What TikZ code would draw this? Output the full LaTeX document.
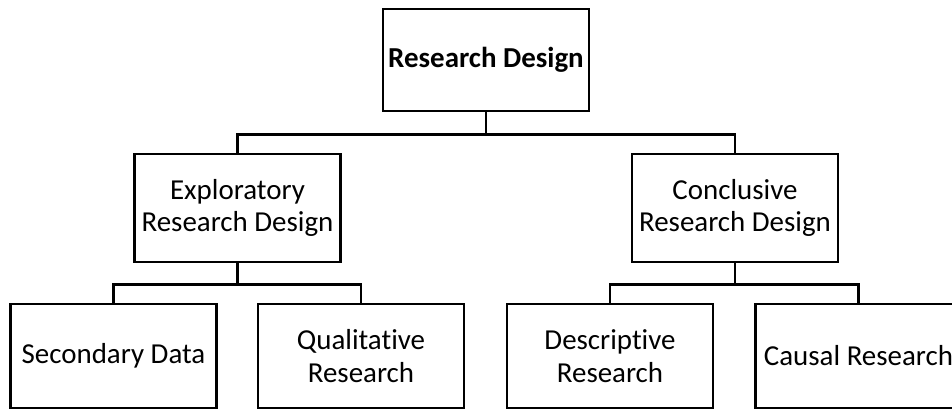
\documentclass[tikz,border=0pt]{standalone}
\usepackage{fontspec}
\setmainfont{Carlito}[Ligatures={NoCommon}]
\usepackage{tikz}
\usetikzlibrary{positioning, calc}

\tikzset{
    designbox/.style={draw=black, line width=2.2pt, fill=white, align=center,
        minimum width=154.5pt, minimum height=#1, inner sep=0pt,
        font=\fontsize{21.7}{24.5}\selectfont},
    designbox/.default=78pt,
    branch/.style={draw=black, line width=2.2pt, line cap=rect}
}

\begin{document}
\begin{tikzpicture}[x=0.75pt, y=-0.75pt]
        % Frame
        \useasboundingbox (0,0) rectangle (952,409);
        \clip (0,0) rectangle (952,409);

        % Root
        \node[designbox=76.5pt] (rd) at (486,60) {\textbf{Research Design}};

        % Second level
        \node[designbox=81pt] (explo) at (237.5,208) {Exploratory\\Research Design};
        \node[designbox=81pt] (concl) at (735,208) {Conclusive\\Research Design};

        % Leaves
        \node[designbox] (secdata) at (113.5,356) {Secondary Data};
        \node[designbox] (quali) at (361,356) {Qualitative\\Research};
        \node[designbox] (descr) at (610,356) {Descriptive\\Research};
        \node[designbox] (causal) at (858.5,356) {Causal Research};

        % Branches
        \draw[branch] (rd.south) -- ++(0,22) coordinate (splitA) -| (explo.north);
        \draw[branch] (splitA) -| (concl.north);
        \draw[branch] (explo.south) -- ++(0,21) coordinate (splitB) -| (secdata.north);
        \draw[branch] (splitB) -| (quali.north);
        \draw[branch] (concl.south) -- ++(0,21) coordinate (splitC) -| (descr.north);
        \draw[branch] (splitC) -| (causal.north);
    \end{tikzpicture}
\end{document}
